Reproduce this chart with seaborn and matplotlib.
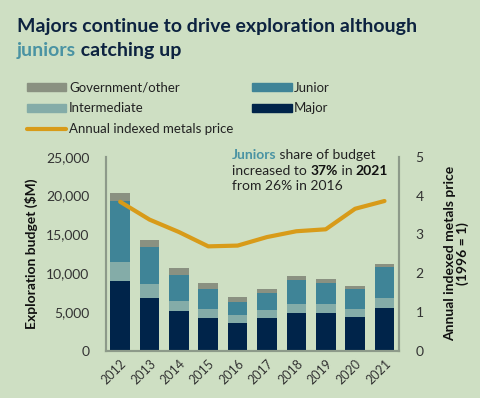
import matplotlib
matplotlib.use("Agg")
import matplotlib.pyplot as plt
import matplotlib.patches as mpatches
import matplotlib.lines as mlines
import seaborn as sns
import numpy as np
import pandas as pd

years = ["2012", "2013", "2014", "2015", "2016", "2017", "2018", "2019", "2020", "2021"]
major = [8970, 6840, 5170, 4230, 3590, 4270, 4910, 4870, 4360, 5510]
intermediate = [2400, 1710, 1200, 1150, 980, 940, 1070, 1110, 1020, 1240]
junior = [7950, 4780, 3370, 2570, 1710, 2230, 3080, 2740, 2570, 4020]
government = [1060, 990, 940, 770, 640, 550, 510, 510, 380, 430]
metals_price = [3.84, 3.38, 3.06, 2.69, 2.71, 2.93, 3.08, 3.13, 3.66, 3.86]

BG = "#cedfc3"
C_MAJOR = "#00244a"
C_INTER = "#84aca8"
C_JUNIOR = "#3f8497"
C_GOV = "#8a9181"
C_LINE = "#d89b19"
C_TEXT = "#333333"
C_TITLE = "#0d2340"
C_SPINE = "#8d9a8a"

df = pd.DataFrame({"year": years, "major": major, "intermediate": intermediate,
                   "junior": junior, "government": government})
df["l2"] = df["major"] + df["intermediate"]
df["l3"] = df["l2"] + df["junior"]
df["l4"] = df["l3"] + df["government"]

sns.set_theme(style="white")
plt.rcParams["font.family"] = ["Lato", "DejaVu Sans"]

fig = plt.figure(figsize=(4.8, 3.98), dpi=100, facecolor=BG)
ax = fig.add_axes([0.221, 0.119, 0.610, 0.487])
ax.set_facecolor(BG)

# stacked bars: draw cumulative totals from the top layer down
for col, c in [("l4", C_GOV), ("l3", C_JUNIOR), ("l2", C_INTER), ("major", C_MAJOR)]:
    sns.barplot(data=df, x="year", y=col, color=c, width=0.67, saturation=1,
                linewidth=0, ax=ax, zorder=2)

ax.set_ylim(0, 25000)
ax.set_xlim(-0.48, 9.49)
ax.set_yticks(range(0, 25001, 5000))
ax.set_yticklabels([f"{v:,}" for v in range(0, 25001, 5000)])
ax.set_xlabel("")
ax.set_ylabel("Exploration budget ($M)", fontsize=10, fontweight="bold",
              color="#111111", labelpad=6)
ax.tick_params(axis="x", rotation=45, labelsize=9, colors=C_TEXT, length=0, pad=5)
ax.tick_params(axis="y", labelsize=10, colors=C_TEXT, length=0, pad=12)
for lab in ax.get_xticklabels():
    lab.set_ha("right")
    lab.set_rotation_mode("anchor")

ax2 = ax.twinx()
sns.lineplot(x=np.arange(len(years)), y=metals_price, color=C_LINE, linewidth=3,
             ax=ax2, zorder=3)
ax2.set_ylim(0, 5)
ax2.set_xlim(-0.48, 9.49)
ax2.set_yticks(range(0, 6))
ax2.tick_params(axis="y", labelsize=10, colors=C_TEXT, length=0, pad=12)
ax2.set_ylabel("Annual indexed metals price\n(1996 = 1)", fontsize=10,
               fontweight="bold", color="#111111", labelpad=15, linespacing=1.0)

for a in (ax, ax2):
    a.spines["top"].set_visible(False)
    for s in ["left", "right", "bottom"]:
        a.spines[s].set_color(C_SPINE)
        a.spines[s].set_linewidth(1.5)

# title
t1 = fig.text(0.035, 0.955, "Majors continue to drive exploration although",
              fontsize=14, fontweight="bold", color=C_TITLE, va="top")
t2 = fig.text(0.035, 0.895, "juniors", fontsize=14, fontweight="bold",
              color="#4a93a3", va="top")
ax.annotate(" catching up", xy=(1, 0), xycoords=t2, va="bottom", ha="left",
            fontsize=14, fontweight="bold", color=C_TITLE, annotation_clip=False)

# annotation
fs = 10
x0 = 0.483
y0 = 0.600
a1 = fig.text(x0, y0, "Juniors", fontsize=fs, fontweight="bold",
              color="#4a93a3", va="baseline")
ax.annotate(" share of budget", xy=(1, 0), xycoords=a1, va="bottom",
            fontsize=fs, color="#222222", annotation_clip=False)
b1 = fig.text(x0, y0 - 0.039, "increased to ", fontsize=fs, color="#222222",
              va="baseline")
b2 = ax.annotate("37%", xy=(1, 0), xycoords=b1, va="bottom", fontsize=fs,
                 fontweight="bold", color="#111111", annotation_clip=False)
b3 = ax.annotate(" in ", xy=(1, 0), xycoords=b2, va="bottom", fontsize=fs,
                 color="#222222", annotation_clip=False)
ax.annotate("2021", xy=(1, 0), xycoords=b3, va="bottom", fontsize=fs,
            fontweight="bold", color="#111111", annotation_clip=False)
fig.text(x0, y0 - 0.077, "from 26% in 2016", fontsize=fs, color="#222222",
         va="baseline")

# legend
h_gov = mpatches.Patch(color=C_GOV, label="Government/other")
h_int = mpatches.Patch(color=C_INTER, label="Intermediate")
h_line = mlines.Line2D([], [], color=C_LINE, linewidth=3,
                       label="Annual indexed metals price")
h_jun = mpatches.Patch(color=C_JUNIOR, label="Junior")
h_maj = mpatches.Patch(color=C_MAJOR, label="Major")
fig.legend(handles=[h_gov, h_int, h_line, h_jun, h_maj], ncol=2,
           loc="upper left", bbox_to_anchor=(0.045, 0.808), frameon=False,
           fontsize=9.5, handlelength=3.0, handleheight=0.6, handletextpad=0.2,
           labelspacing=0.66, columnspacing=1.4, borderaxespad=0,
           labelcolor="#222222")

fig.savefig("out.png", dpi=100, facecolor=BG)
